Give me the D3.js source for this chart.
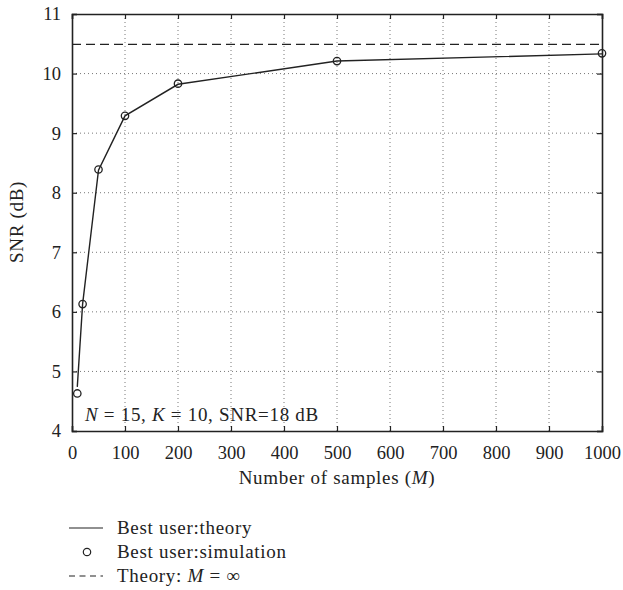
<!DOCTYPE html>
<html><head><meta charset="utf-8">
<script src="https://cdn.jsdelivr.net/npm/d3@7"></script>
<style>body{margin:0;background:#fff}svg{display:block}text{font-family:"Liberation Serif","DejaVu Serif",serif;fill:#222}</style>
</head><body><svg id="c" width="623" height="590"></svg>
<script>
const samplesM = [10, 20, 50, 100, 200, 500, 1000];
const theorySNR = [4.74, 6.13, 8.38, 9.29, 9.82, 10.21, 10.33];
const simulationSNR = [4.63, 6.13, 8.39, 9.29, 9.83, 10.21, 10.34];
const limitSNR = 10.49;
const xTicks = [0,100,200,300,400,500,600,700,800,900,1000];
const yTicks = [4,5,6,7,8,9,10,11];

const svg = d3.select("#c");
const L=72, R=602, T=14, B=431;
const x = d3.scaleLinear().domain([0,1000]).range([L,R]);
const y = d3.scaleLinear().domain([4,11]).range([B,T]);
const ink = "#222";
const tfs = "18.5px", lfs = "19px", ls = "0.7px";

// grid
const g = svg.append("g");
g.selectAll(".gx").data(xTicks.slice(1,-1)).enter().append("line")
  .attr("x1",d=>x(d)).attr("x2",d=>x(d)).attr("y1",T).attr("y2",B)
  .attr("stroke","#555").attr("stroke-width",0.8).attr("stroke-dasharray","1,3");
g.selectAll(".gy").data(yTicks.slice(1,-1)).enter().append("line")
  .attr("y1",d=>y(d)).attr("y2",d=>y(d)).attr("x1",L).attr("x2",R)
  .attr("stroke","#555").attr("stroke-width",0.8).attr("stroke-dasharray","1,3");

// axes with inward ticks
const xb = svg.append("g").attr("transform",`translate(0,${B})`)
  .call(d3.axisBottom(x).tickValues(xTicks).tickSize(-5).tickPadding(15).tickFormat(d3.format("d")));
const xt = svg.append("g").attr("transform",`translate(0,${T})`)
  .call(d3.axisTop(x).tickValues(xTicks).tickSize(-5).tickFormat(""));
const yl = svg.append("g").attr("transform",`translate(${L},0)`)
  .call(d3.axisLeft(y).tickValues(yTicks).tickSize(-5).tickPadding(11).tickFormat(d3.format("d")));
const yr = svg.append("g").attr("transform",`translate(${R},0)`)
  .call(d3.axisRight(y).tickValues(yTicks).tickSize(-5).tickFormat(""));
[xb,xt,yl,yr].forEach(a=>{
  a.selectAll("path").attr("stroke",ink).attr("stroke-width",1.6);
  a.selectAll("line").attr("stroke",ink).attr("stroke-width",1.2);
  a.selectAll("text").style("font-size",tfs).style("font-family",'"Liberation Serif",serif').attr("fill",ink);
});

// limit dashed line
svg.append("line").attr("x1",L).attr("x2",R).attr("y1",y(limitSNR)).attr("y2",y(limitSNR))
  .attr("stroke",ink).attr("stroke-width",1.3).attr("stroke-dasharray","9,5");

// theory line
const line = d3.line().x((d,i)=>x(samplesM[i])).y(d=>y(d));
svg.append("path").attr("d",line(theorySNR)).attr("fill","none").attr("stroke",ink).attr("stroke-width",1.4);

// simulation circles
svg.selectAll(".pt").data(simulationSNR).enter().append("circle")
  .attr("cx",(d,i)=>x(samplesM[i])).attr("cy",d=>y(d)).attr("r",3.7)
  .attr("fill","none").attr("stroke",ink).attr("stroke-width",1.3);

function txt(xp, yp, parts, extra){
  const t = svg.append("text").attr("x",xp).attr("y",yp).style("font-size",lfs).style("letter-spacing",ls);
  if (extra) extra(t);
  parts.forEach(p=>{ const s=t.append("tspan").text(p[0]); if(p[1]) s.attr("font-style","italic"); });
  return t;
}
// annotation
txt(85, 421, [["N",1],[" = 15, "],["K",1],[" = 10, SNR=18 dB"]]);

// axis labels
txt(337, 484, [["Number of samples ("],["M",1],[")"]], t=>t.attr("text-anchor","middle"));
svg.append("text").attr("transform","translate(23,222) rotate(-90)").attr("text-anchor","middle")
  .style("font-size",lfs).style("letter-spacing",ls).text("SNR (dB)");

// legend
const lx=69, tx=117;
svg.append("line").attr("x1",lx).attr("x2",103).attr("y1",528).attr("y2",528).attr("stroke",ink).attr("stroke-width",1.2);
txt(tx, 534, [["Best user:theory"]]);
svg.append("circle").attr("cx",87).attr("cy",552).attr("r",3.7).attr("fill","none").attr("stroke",ink).attr("stroke-width",1.2);
txt(tx, 558, [["Best user:simulation"]]);
svg.append("line").attr("x1",lx).attr("x2",103).attr("y1",576).attr("y2",576).attr("stroke",ink).attr("stroke-width",1.2).attr("stroke-dasharray","6,4.5");
txt(tx, 582, [["Theory: "],["M",1],[" = ∞"]]);
</script></body></html>
